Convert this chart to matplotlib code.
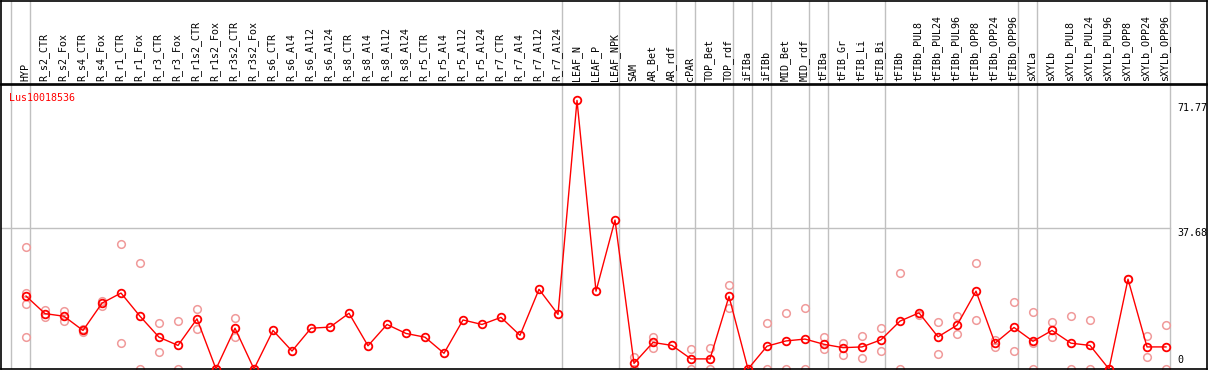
import numpy as np
import matplotlib
matplotlib.use('Agg')
import matplotlib.pyplot as plt

# column names in the header
samples = ['HYP', 'R_s2_CTR', 'R_s2_Fox', 'R_s4_CTR', 'R_s4_Fox', 'R_r1_CTR',
           'R_r1_Fox', 'R_r3_CTR', 'R_r3_Fox', 'R_r1s2_CTR', 'R_r1s2_Fox',
           'R_r3s2_CTR', 'R_r3s2_Fox', 'R_s6_CTR', 'R_s6_Al4', 'R_s6_Al12',
           'R_s6_Al24', 'R_s8_CTR', 'R_s8_Al4', 'R_s8_Al12', 'R_s8_Al24',
           'R_r5_CTR', 'R_r5_Al4', 'R_r5_Al12', 'R_r5_Al24', 'R_r7_CTR',
           'R_r7_Al4', 'R_r7_Al12', 'R_r7_Al24', 'LEAF_N', 'LEAF_P', 'LEAF_NPK',
           'SAM', 'AR_Bet', 'AR_rdf', 'cPAR', 'TOP_Bet', 'TOP_rdf', 'iFIBa',
           'iFIBb', 'MID_Bet', 'MID_rdf', 'tFIBa', 'tFIB_Gr', 'tFIB_Li',
           'tFIB_Bi', 'tFIBb', 'tFIBb_PUL8', 'tFIBb_PUL24', 'tFIBb_PUL96',
           'tFIBb_OPP8', 'tFIBb_OPP24', 'tFIBb_OPP96', 'sXYLa', 'sXYLb',
           'sXYLb_PUL8', 'sXYLb_PUL24', 'sXYLb_PUL96', 'sXYLb_OPP8',
           'sXYLb_OPP24', 'sXYLb_OPP96']

# mean expression (red line)
mean_expr = [19.5, 14.8, 14.1, 10.3, 17.6, 20.3, 14.1, 8.5, 6.3, 13.4, 0.0,
             10.9, 0.0, 10.3, 4.8, 10.9, 11.2, 14.9, 6.2, 11.9, 9.5,
             8.5, 4.2, 13.1, 11.9, 13.8, 9.0, 21.3, 14.6, 71.77, 20.8, 39.8,
             1.5, 7.1, 6.3, 2.7, 2.7, 19.4, 0.0, 6.1, 7.5, 8.0, 6.6, 5.7, 5.9,
             7.8, 12.8, 15.0, 8.6, 11.7, 20.8, 6.9, 11.1, 7.4, 10.3,
             6.9, 6.3, 0.0, 24.0, 5.9, 5.9]

# replicate values (pink circles), empty where none are drawn
replicates = [[32.5, 20.4, 17.4, 8.5], [15.8, 14.0], [15.6, 12.8], [10.0, 10.6],
              [18.2, 16.9], [33.3, 6.9], [28.2, 0.0], [12.2, 4.5], [12.7, 0.0],
              [16.0, 10.6], [0.0], [13.5, 8.5], [0.0],
              [], [], [], [], [], [], [], [], [], [], [], [], [], [], [], [],
              [], [], [],
              [3.1, 0.0], [8.6, 5.7], [], [5.3, 0.0], [5.6, 0.0], [22.4, 16.2],
              [0.0], [12.2, 0.0], [14.9, 0.0], [16.2, 0.0], [8.6, 5.4],
              [6.9, 3.7], [8.7, 2.9], [10.9, 4.8], [25.6, 0.0], [14.3],
              [12.6, 4.1], [14.1, 9.3], [28.2, 13.1], [7.8, 6.0], [17.8, 4.8],
              [15.1, 6.9, 0.0], [12.6, 8.5], [14.1, 0.0], [13.1, 0.0], [0.0],
              [24.0], [8.8, 3.2], [11.7, 0.0]]

# group separators come after these columns
group_ends = [-1, 0, 28, 31, 34, 35, 37, 38, 39, 41, 42, 45, 52, 53, 60]

gene = 'Lus10018536'
y_ticks = [71.77, 37.68, 0]

W, H = 1209, 370
fig = plt.figure(figsize=(W / 100, H / 100), dpi=100)
mono = 'DejaVu Sans Mono'
grey = '#c0c0c0'

# pixel geometry of the reference
col_px = 19.0
x0 = -25 / col_px
x1 = x0 + 1206 / col_px
y_px = 3.742  # pixels per unit
ymax = 284 / y_px

ax = fig.add_axes([1 / W, 1 / H, 1206 / W, 284 / H])
hdr = fig.add_axes([1 / W, (H - 84) / H, 1206 / W, 83.5 / H])

for a in (ax, hdr):
    a.set_xlim(x0, x1)
    a.set_xticks([])
    a.set_yticks([])
    for s in a.spines.values():
        s.set_color('black')
        s.set_linewidth(1.2)
    for g in group_ends:
        a.axvline(g + 0.2, color=grey, lw=1, zorder=0)

ax.set_ylim(0, ymax)
hdr.set_ylim(0, 1)

# header labels
for i, name in enumerate(samples):
    hdr.text(i - 0.05, 0.03, name, rotation=90, ha='center', va='bottom',
             family=mono, fontsize=7.2)

# reference line at 37.68
ax.plot([x0, group_ends[-1] + 0.2], [y_ticks[1]] * 2, color=grey, lw=1, zorder=0)

xs = np.arange(len(samples))
rx = [i for i, r in enumerate(replicates) for _ in r]
ry = [v for r in replicates for v in r]
ax.plot(rx, ry, 'o', ms=5.5, mfc='none', mec='#f09a9a', mew=1.1, zorder=2)
ax.plot(xs, mean_expr, '-', color='red', lw=1, zorder=3)
ax.plot(xs, mean_expr, 'o', ms=5.5, mfc='none', mec='red', mew=1.3, zorder=4)

# gene id and value labels
ax.text(8 / 1206, 1 - 8 / 284, gene, transform=ax.transAxes, color='red',
        family=mono, fontsize=7.2, ha='left', va='top')
tx = group_ends[-1] + 0.2 + 8 / col_px
ax.text(tx, y_ticks[0] - 0.8, '71.77', family=mono, fontsize=7.2, va='top', ha='left')
ax.text(tx, y_ticks[1], '37.68', family=mono, fontsize=7.2, va='top', ha='left')
ax.text(tx, 1.0, '0', family=mono, fontsize=7.2, va='bottom', ha='left')

fig.savefig('out.png', dpi=100)
